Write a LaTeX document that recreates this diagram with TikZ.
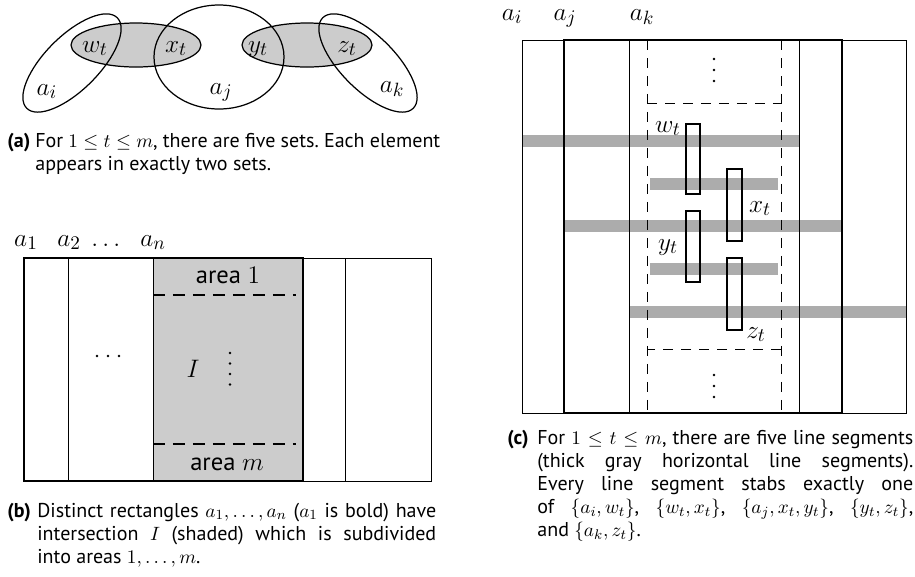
\documentclass[tikz,border=0pt]{standalone}
\usepackage{amsmath,amssymb}
\usepackage{fontspec}
\setmainfont{PT Sans}
\usepackage{tikz}
\usetikzlibrary{positioning}
\frenchspacing
\hyphenpenalty=10000
\exhyphenpenalty=10000
\emergencystretch=2em

\begin{document}
\begin{tikzpicture}[
    x=0.02cm, y=-0.02cm,
    setlabel/.style={font=\fontsize{15.5}{18}\selectfont, inner sep=0pt, anchor=base},
    arealabel/.style={font=\fontsize{14}{17}\selectfont, inner sep=0pt, anchor=base},
    captag/.style={font=\fontsize{11.4}{13.2}\selectfont\bfseries, inner sep=0pt, anchor=base west},
    captext/.style={font=\fontsize{11.4}{13.2}\selectfont, inner sep=0pt, anchor=base west, align=justify},
    setline/.style={draw=black, line width=0.7pt},
    elemset/.style={setline, fill=gray!40},
    thinbox/.style={draw=black, line width=0.5pt},
    boldbox/.style={draw=black, line width=1.6pt},
    areacut/.style={draw=black, line width=1pt, dash pattern=on 0.24cm off 0.16cm},
    stripcut/.style={draw=black, line width=0.5pt, dash pattern=on 0.2cm off 0.16cm},
    segment/.style={draw=gray!65, line width=0.24cm},
    elembox/.style={draw=black, line width=1.5pt}
]
\useasboundingbox (0,0) rectangle (915,576);

% PANEL (a): the five sets
\fill[gray!40] (136,45) ellipse [x radius=65, y radius=22];
\fill[gray!40] (307,45) ellipse [x radius=65, y radius=22];
\draw[setline] (136,45) ellipse [x radius=65, y radius=22];
\draw[setline] (307,45) ellipse [x radius=65, y radius=22];
\draw[setline, rotate around={45:(72,63)}] (72,63) ellipse [x radius=64, y radius=27];
\draw[setline, rotate around={-45:(368,63)}] (368,63) ellipse [x radius=64, y radius=27];
\draw[setline] (219,57) ellipse [x radius=65, y radius=52];
\node[setlabel] (wt) at (95,52) {$w_t$};
\node[setlabel] (xt) at (176,52) {$x_t$};
\node[setlabel] (yt) at (258,52) {$y_t$};
\node[setlabel] (zt) at (347,52) {$z_t$};
\node[setlabel] (ai) at (47,95) {$a_i$};
\node[setlabel] (aj) at (221,94) {$a_j$};
\node[setlabel] (ak) at (392,92) {$a_k$};

\node[captag] (tagA) at (7,147) {(a)};
\node[captext, text width=8.1cm] (capA) at (35,147)
    {For $1\le t\le m$, there are five sets. Each element\linebreak
     appears in exactly two sets.};

% PANEL (b): rectangles and their intersection I
\fill[gray!40] (153,258) rectangle (303,481);
\draw[thinbox] (153,258) rectangle (431,481);
\draw[thinbox] (68,258) rectangle (345,481);
\draw[boldbox] (24,258) rectangle (303,481);
\draw[areacut] (153,295) -- (296,295);
\draw[areacut] (153,444) -- (296,444);
\node[setlabel] (a1) at (26,246) {$a_1$};
\node[setlabel] (a2) at (69,246) {$a_2$};
\node[setlabel] (adots) at (108,246) {$\dots$};
\node[setlabel] (an) at (153,246) {$a_n$};
\node[arealabel] (area1) at (228,283) {area $1$};
\node[arealabel] (aream) at (227,470) {area $m$};
\node[setlabel] (isect) at (193,377) {$I$};
\foreach \y in {353,363.5,374,384.5}
    \fill (230,\y) circle (1.3);
\foreach \x in {97,108,119}
    \fill (\x,356) circle (1.3);

\node[captag] (tagB) at (7,517) {(b)};
\node[captext, text width=7.98cm] (capB) at (37,517)
    {Distinct rectangles $a_1,\dots,a_n$ ($a_1$ is bold) have\linebreak
     intersection $I$ (shaded) which is subdivided\linebreak
     into areas $1,\dots,m$.};

% PANEL (c): line segments through the strips
\draw[segment] (522,141) -- (799,141);
\draw[segment] (650,184) -- (778,184);
\draw[segment] (564,226) -- (842,226);
\draw[segment] (650,269) -- (778,269);
\draw[segment] (629,312) -- (906,312);
\draw[thinbox] (522,40) rectangle (799,413);
\draw[thinbox] (629,40) rectangle (906,413);
\draw[boldbox] (564,40) rectangle (842,413);
\draw[stripcut] (647,40) -- (647,413);
\draw[stripcut] (781,40) -- (781,413);
\draw[stripcut] (647,103) -- (781,103);
\draw[stripcut] (781,349) -- (647,349);
\draw[elembox] (686,124) rectangle (700,194);
\draw[elembox] (727,169) rectangle (742,241);
\draw[elembox] (686,211) rectangle (700,282);
\draw[elembox] (727,258) rectangle (742,330);
\foreach \y in {59,70,81,375,386,397}
    \fill (714,\y) circle (1.3);
\node[setlabel] (ci) at (512,20) {$a_i$};
\node[setlabel] (cj) at (565,20) {$a_j$};
\node[setlabel] (ck) at (642,20) {$a_k$};
\node[setlabel] (cw) at (668,132) {$w_t$};
\node[setlabel] (cx) at (760,212) {$x_t$};
\node[setlabel] (cy) at (668,250) {$y_t$};
\node[setlabel] (cz) at (756,338) {$z_t$};

\node[captag] (tagC) at (507,444) {(c)};
\node[captext, text width=7.52cm] (capC) at (537,444)
    {For $1\le t\le m$, there are five line segments\linebreak
     (thick gray horizontal line segments).\linebreak
     Every line segment stabs exactly one\linebreak
     of $\{a_i,w_t\}$, $\{w_t,x_t\}$, $\{a_j,x_t,y_t\}$, $\{y_t,z_t\}$,\linebreak
     and $\{a_k,z_t\}$.};
\end{tikzpicture}
\end{document}
